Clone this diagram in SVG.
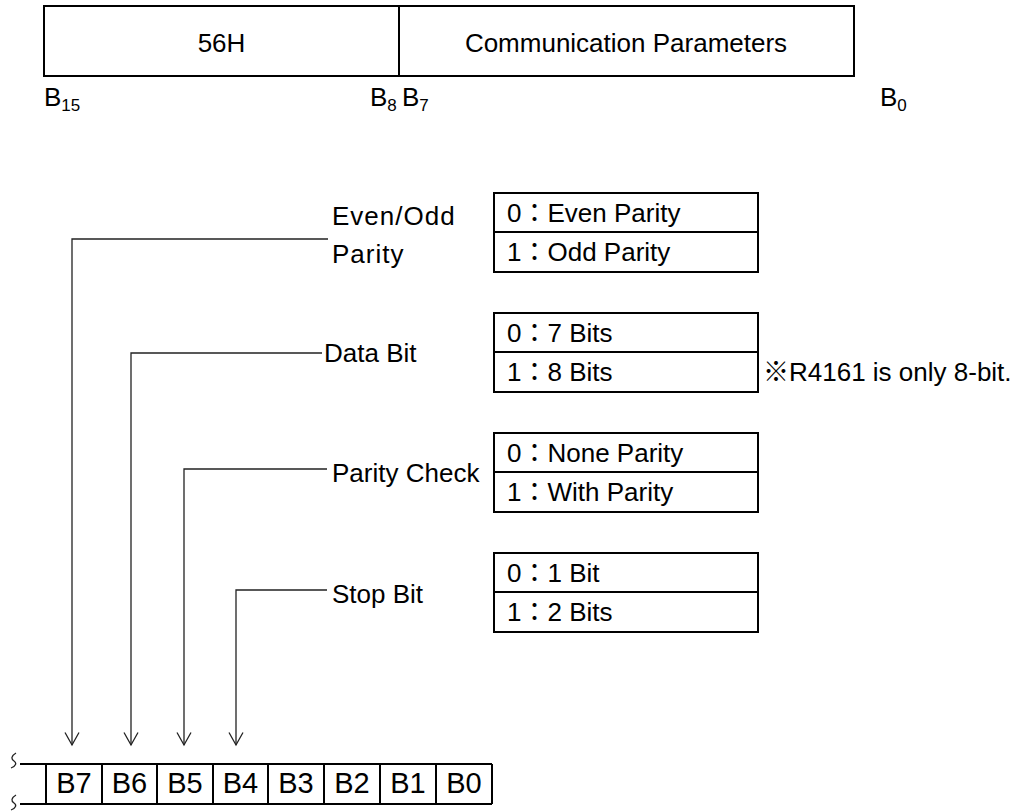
<svg xmlns="http://www.w3.org/2000/svg" width="1023" height="811" viewBox="0 0 1023 811">
<defs>
<style>
text{font-family:"Liberation Sans","Noto Sans CJK JP",Arial,sans-serif;font-size:26px;fill:#000}
.box{fill:none;stroke:#000;stroke-width:2}
.conn{fill:none;stroke:#222;stroke-width:1.3}
.mid{text-anchor:middle}
.sub{font-size:17px}
.cell{font-size:29px;text-anchor:middle}
</style>
<marker id="arr" markerUnits="userSpaceOnUse" markerWidth="20" markerHeight="20" refX="16" refY="10" orient="auto" viewBox="0 0 20 20">
<path d="M3.5,3 L16,10 L3.5,17" fill="none" stroke="#222" stroke-width="1.3"/>
</marker>
</defs>
<rect width="1023" height="811" fill="#fff"/>

<g id="word">
<rect class="box" x="44" y="6" width="810" height="70"/>
<line class="box" x1="399" y1="6" x2="399" y2="76"/>
<text class="mid" x="221.5" y="52">56H</text>
<text class="mid" x="626" y="52">Communication Parameters</text>
<text x="44" y="106">B<tspan class="sub" dy="5">15</tspan></text>
<text x="370" y="106">B<tspan class="sub" dy="5">8</tspan></text>
<text x="402" y="106">B<tspan class="sub" dy="5">7</tspan></text>
<text x="880" y="106">B<tspan class="sub" dy="5">0</tspan></text>
</g>

<g id="even-odd-parity">
<text x="332" y="225" letter-spacing="1">Even/Odd</text>
<text x="332" y="263" letter-spacing="1">Parity</text>
<rect class="box" x="494" y="193" width="264" height="79"/>
<line class="box" x1="494" y1="232" x2="758" y2="232"/>
<text x="507" y="222">0：Even Parity</text>
<text x="507" y="261">1：Odd Parity</text>
</g>

<g id="data-bit">
<text x="324" y="362">Data Bit</text>
<rect class="box" x="494" y="313" width="264" height="79"/>
<line class="box" x1="494" y1="352" x2="758" y2="352"/>
<text x="507" y="342">0：7 Bits</text>
<text x="507" y="381">1：8 Bits</text>
<text x="763" y="381">※R4161 is only 8-bit.</text>
</g>

<g id="parity-check">
<text x="332" y="482">Parity Check</text>
<rect class="box" x="494" y="433" width="264" height="79"/>
<line class="box" x1="494" y1="472" x2="758" y2="472"/>
<text x="507" y="462">0：None Parity</text>
<text x="507" y="501">1：With Parity</text>
</g>

<g id="stop-bit">
<text x="332" y="603">Stop Bit</text>
<rect class="box" x="494" y="553" width="264" height="79"/>
<line class="box" x1="494" y1="592" x2="758" y2="592"/>
<text x="507" y="582">0：1 Bit</text>
<text x="507" y="621">1：2 Bits</text>
</g>

<g id="register">
<line class="box" x1="20" y1="764" x2="492" y2="764"/>
<line class="box" x1="20" y1="804" x2="492" y2="804"/>
<path class="conn" d="M16,753 c-5,3 -5,6 -2,8 c3,2 2,5 -3,7"/>
<path class="conn" d="M16,795 c-5,3 -5,6 -2,8 c3,2 2,5 -3,7"/>
<g class="box">
<line x1="46" y1="764" x2="46" y2="804"/>
<line x1="102" y1="764" x2="102" y2="804"/>
<line x1="157" y1="764" x2="157" y2="804"/>
<line x1="213" y1="764" x2="213" y2="804"/>
<line x1="268" y1="764" x2="268" y2="804"/>
<line x1="324" y1="764" x2="324" y2="804"/>
<line x1="380" y1="764" x2="380" y2="804"/>
<line x1="436" y1="764" x2="436" y2="804"/>
<line x1="492" y1="764" x2="492" y2="804"/>
</g>
<text class="cell" x="74" y="793">B7</text>
<text class="cell" x="129.5" y="793">B6</text>
<text class="cell" x="185" y="793">B5</text>
<text class="cell" x="240.5" y="793">B4</text>
<text class="cell" x="296" y="793">B3</text>
<text class="cell" x="352" y="793">B2</text>
<text class="cell" x="408" y="793">B1</text>
<text class="cell" x="464" y="793">B0</text>
</g>

<g id="connectors">
<polyline class="conn" points="328,239 72,239 72,745" marker-end="url(#arr)"/>
<polyline class="conn" points="322,353 131,353 131,745" marker-end="url(#arr)"/>
<polyline class="conn" points="327,469 184,469 184,745" marker-end="url(#arr)"/>
<polyline class="conn" points="327,590 236,590 236,745" marker-end="url(#arr)"/>
</g>
</svg>
